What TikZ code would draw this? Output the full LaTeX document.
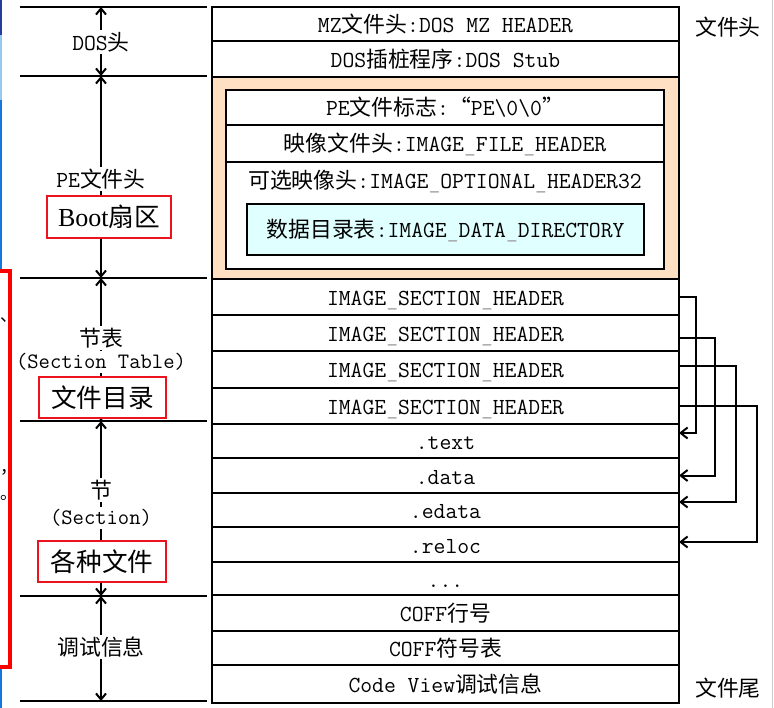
\documentclass[tikz,border=0pt]{standalone}
\usepackage{fontspec}
\usetikzlibrary{arrows.meta}
\newfontfamily\cjkf{Noto Sans CJK SC}[Scale=0.95]
\newfontfamily\timesf{Liberation Serif}
\newcommand\zhw[1]{{\cjkf #1}}
\newcommand\usc{{\color{black!35}\_}}
\definecolor{peach}{HTML}{FFE0C2}
\definecolor{lcyan}{HTML}{E0FFFF}
\definecolor{edgeblue}{RGB}{20,120,220}
\definecolor{boxred}{RGB}{235,20,30}
\begin{document}
\begin{tikzpicture}[x=1pt,y=-1pt,
  every node/.style={inner sep=0pt,outer sep=0pt},
  mono/.style={font=\fontsize{23}{26}\selectfont\ttfamily\addfontfeatures{FakeBold=0.4}},
  row/.style={mono,draw,line width=2pt,minimum width=467pt,anchor=north west,text height=19pt,text depth=2pt},
  inrow/.style={mono,line width=2pt,minimum width=438pt,anchor=north west,text height=19pt,text depth=2pt},
  lbl/.style={mono,fill=white,inner sep=2pt},
  redbox/.style={draw=boxred,line width=1.2pt,fill=white,font=\fontsize{27}{30}\selectfont},
  sepline/.style={line width=2pt},
  dbl/.style={line width=2pt,{Straight Barb[length=6pt,width=10pt]}-{Straight Barb[length=6pt,width=10pt]}},
  conn/.style={line width=2pt,-{Straight Barb[length=7pt,width=11pt]}}
]
\useasboundingbox (0,0) rectangle (774,708);
% screen artefacts at the left and right edge
\draw[line width=2.5pt,color={rgb,255:red,40;green,60;blue,160}] (1,0) -- (1,35);
\draw[line width=2.5pt,color={rgb,255:red,150;green,200;blue,240}] (1,35) -- (1,100);
\draw[line width=2.5pt,edgeblue] (1,100) -- (1,270) (1,667) -- (1,708);
\draw[line width=3.5pt,red] (0,271) -- (10,271) -- (10,667) -- (0,667);
\draw[line width=1pt,black!20] (772.5,0) -- (772.5,708);
\node[anchor=base west,font=\fontsize{18}{20}\selectfont\cjkf] (p1) at (0,322) {、};
\node[anchor=base west,font=\fontsize{18}{20}\selectfont\cjkf] (p2) at (0,474) {，};
\node[anchor=base west,font=\fontsize{18}{20}\selectfont\cjkf] (p3) at (0,500) {。};

% main column
\node[row,minimum height=34pt] (mz) at (212,7) {MZ\zhw{文件头}:DOS MZ HEADER};
\node[row,minimum height=36pt] (stub) at (212,41) {DOS\zhw{插桩程序}:DOS Stub};
\node[row,minimum height=202pt,fill=peach] (pe) at (212,77) {};
\node[draw,line width=2pt,fill=white,minimum width=438pt,minimum height=179pt,anchor=north west] (inner) at (226,90) {};
\node[inrow,draw,minimum height=35pt] (sig) at (226,90) {PE\zhw{文件标志}:\zhw{“}PE\textbackslash0\textbackslash0\zhw{”}};
\node[inrow,draw,minimum height=37pt] (fh) at (226,125) {\zhw{映像文件头}:IMAGE\usc FILE\usc HEADER};
\node[inrow,minimum height=36pt] (oh) at (226,162) {\zhw{可选映像头}:IMAGE\usc OPTIONAL\usc HEADER32};
\node[mono,draw,line width=2pt,fill=lcyan,minimum width=397pt,minimum height=51pt,anchor=north west,text height=19pt,text depth=2pt] (dd) at (247,204) {\zhw{数据目录表}:IMAGE\usc DATA\usc DIRECTORY};
\node[row,minimum height=36pt] (ish1) at (212,279) {IMAGE\usc SECTION\usc HEADER};
\node[row,minimum height=36pt] (ish2) at (212,315) {IMAGE\usc SECTION\usc HEADER};
\node[row,minimum height=37pt] (ish3) at (212,351) {IMAGE\usc SECTION\usc HEADER};
\node[row,minimum height=36pt] (ish4) at (212,388) {IMAGE\usc SECTION\usc HEADER};
\node[row,minimum height=34pt] (stext) at (212,424) {.text};
\node[row,minimum height=35pt] (sdata) at (212,458) {.data};
\node[row,minimum height=34pt] (sedata) at (212,493) {.edata};
\node[row,minimum height=35pt] (sreloc) at (212,527) {.reloc};
\node[row,minimum height=33pt] (sdots) at (212,562) {...};
\node[row,minimum height=36pt] (coff1) at (212,595) {COFF\zhw{行号}};
\node[row,minimum height=34pt] (coff2) at (212,631) {COFF\zhw{符号表}};
\node[row,minimum height=38pt] (cv) at (212,665) {Code View\zhw{调试信息}};

% section header connectors
\draw[conn] (ish1.east) -- ++(17,0) |- ([yshift=8pt]stext.east);
\draw[conn] ([yshift=-5pt]ish2.east) -- ++(36,0) |- (sdata.east);
\draw[conn] ([yshift=3.5pt]ish3.east) -- ++(57,0) |- ([yshift=8pt]sedata.east);
\draw[conn] (ish4.east) -- ++(78,0) |- ([yshift=2.5pt]sreloc.east);

% right labels
\node[font=\fontsize{23}{26}\selectfont\cjkf] (fhead) at (728,27) {文件头};
\node[font=\fontsize{23}{26}\selectfont\cjkf] (ftail) at (728,688) {文件尾};

% left scale
\foreach \yy in {7,76,278,421,596,701} \draw[sepline] (20,\yy) -- (207,\yy);
\coordinate (a0) at (101,7);
\coordinate (a1) at (101,76);
\coordinate (a2) at (101,278);
\coordinate (a3) at (101,421);
\coordinate (a4) at (101,596);
\coordinate (a5) at (101,701);
\draw[dbl] (a0) -- (a1);
\draw[dbl] (a1) -- (a2);
\draw[dbl] (a2) -- (a3);
\draw[dbl] (a3) -- (a4);
\draw[dbl] (a4) -- (a5);

\node[lbl] (ldos) at (101,42) {DOS\zhw{头}};
\node[lbl] (lpe) at (101,179) {PE\zhw{文件头}};
\node[redbox,minimum width=124pt,minimum height=42pt] (boot) at (109,217) {{\fontsize{26}{28}\selectfont\timesf Boot}\zhw{扇区}};
\node[lbl] (lst1) at (101,338) {\zhw{节表}};
\node[lbl,font=\fontsize{22}{24}\selectfont\ttfamily\addfontfeatures{FakeBold=0.4}] (lst2) at (101,362) {(Section Table)};
\node[redbox,minimum width=127pt,minimum height=41pt] (dir) at (102.5,397.5) {\zhw{文件目录}};
\node[lbl] (ls1) at (101,490) {\zhw{节}};
\node[lbl,font=\fontsize{22}{24}\selectfont\ttfamily\addfontfeatures{FakeBold=0.4}] (ls2) at (101,518) {(Section)};
\node[redbox,minimum width=128pt,minimum height=41pt] (files) at (102,561.5) {\zhw{各种文件}};
\node[lbl] (ldbg) at (101,647) {\zhw{调试信息}};
\end{tikzpicture}
\end{document}
